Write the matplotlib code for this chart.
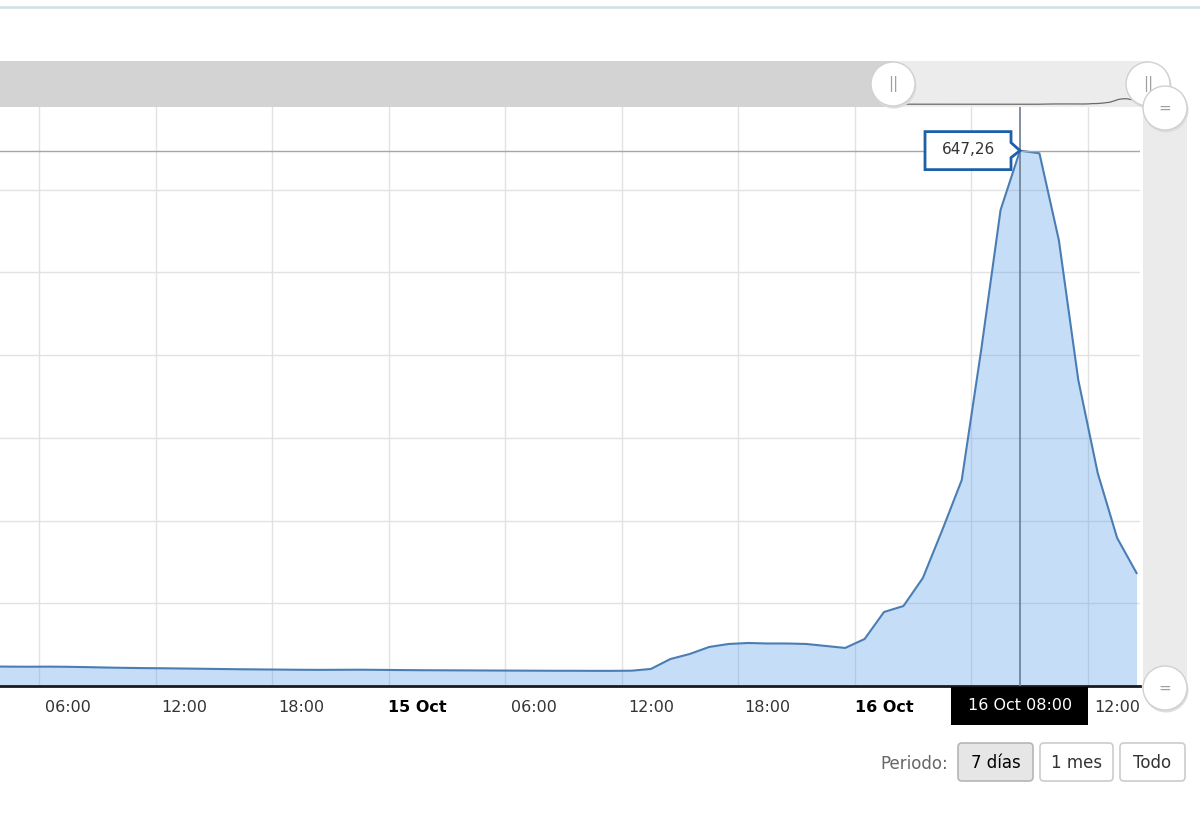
import numpy as np
import matplotlib
matplotlib.use("Agg")
import matplotlib.pyplot as plt
import matplotlib.transforms as mtransforms
from matplotlib.patches import Rectangle, Circle, Polygon, FancyBboxPatch
from matplotlib.lines import Line2D

# ---------------- data (hours since 14 Oct 00:00, hourly values) ----------------
times = np.arange(3.5, 63.0, 1.0)
values = [
    23.6, 23.4, 23.3, 23.4, 23.2, 22.8, 22.3, 21.9, 21.6, 21.4,
    21.1, 20.8, 20.5, 20.2, 20.0, 19.8, 19.6, 19.5, 19.6, 19.7,
    19.5, 19.3, 19.1, 19.0, 18.9, 18.8, 18.7, 18.6, 18.5, 18.4,
    18.4, 18.3, 18.3, 18.5, 20.6, 32.6, 38.7, 47.2, 50.8, 52.0,
    51.4, 51.4, 50.8, 48.4, 46.0, 56.8, 89.5, 96.7, 130.6, 188.6,
    249.0, 406.0, 575.6, 647.26, 644.0, 539.0, 370.0, 257.5, 179.0, 136.6,
]
peak_label = "647,26"
peak_time_label = "16 Oct 08:00"
grid_hours = [6, 12, 18, 24, 30, 36, 42, 48, 54, 60]
tick_labels = ["06:00", "12:00", "18:00", "15 Oct", "06:00", "12:00",
               "18:00", "16 Oct", "06:00", "12:00"]
bold_labels = {"15 Oct", "16 Oct"}
y_grid = [100, 200, 300, 400, 500, 600]
buttons = ["7 días", "1 mes", "Todo"]
period_label = "Periodo:"

W, H = 1200, 840
fig = plt.figure(figsize=(W / 100, H / 100), dpi=100)
fig.patch.set_facecolor("white")
plt.rcParams['font.family'] = ['DejaVu Sans']

PXH = 1049 / 54.0
xlo = 6 - 39 / PXH
xhi = 6 + 1101 / PXH

# ---------------- main axes ----------------
ax = fig.add_axes([0, 1 - 686 / H, 1140 / W, (686 - 107) / H])
ax.set_xlim(xlo, xhi)
ax.set_ylim(0, 700)
ax.set_axisbelow(True)
ax.fill_between(times, values, 0, color="#5aa0e6", alpha=0.35, lw=0, zorder=2)
ax.plot(times, values, color="#4a7db3", lw=1.5, zorder=3)

ipk = int(np.argmax(values))
tp, vp = times[ipk], values[ipk]

label_pos = [g + 1.5 for g in grid_hours]
ax.set_xticks(grid_hours)
ax.set_xticks(label_pos, minor=True)
ax.set_xticklabels(tick_labels, minor=True)
ax.set_yticks(y_grid)
ax.tick_params(which="major", length=0, labelbottom=False, labelleft=False)
ax.tick_params(which="minor", length=0, pad=10, labelsize=11.5, labelcolor="#333333")
box_half_hours = 69 / PXH
for pos, lab in zip(label_pos, ax.get_xticklabels(minor=True)):
    if lab.get_text() in bold_labels:
        lab.set_fontweight("bold")
        lab.set_color("black")
    # the label hidden under the crosshair's date box in the reference
    if abs(pos - tp) < box_half_hours:
        lab.set_visible(False)
ax.grid(True, which="major", color="#e2e2e2", lw=1)
for s in ["top", "left", "right"]:
    ax.spines[s].set_visible(False)
ax.spines["bottom"].set_color("#1a1a1a")
ax.spines["bottom"].set_linewidth(2)

ax.axhline(vp, color="#a6a6a6", lw=1, zorder=4)
ax.axvline(tp, color="#6b7d93", lw=1.2, zorder=4)

# tooltip callout
tr = mtransforms.Affine2D() + mtransforms.ScaledTranslation(tp, vp, ax.transData)
verts = [(-95, 19), (-9, 19), (-9, 8), (0, 0), (-9, -7), (-9, -19), (-95, -19)]
ax.add_patch(Polygon(verts, closed=True, facecolor="white", edgecolor="#1f5ea8",
                     lw=2, transform=tr, clip_on=False, zorder=6))
ax.text(-52, 1, peak_label, transform=tr, ha="center", va="center",
        fontsize=11, color="#333333", zorder=7, clip_on=False)

# x crosshair label
tr2 = mtransforms.Affine2D() + mtransforms.ScaledTranslation(tp, 0, ax.transData)
ax.add_patch(Rectangle((-69, -39), 137, 38, facecolor="black", edgecolor="none",
                       transform=tr2, clip_on=False, zorder=7))
ax.text(0, -19, peak_time_label, transform=tr2, ha="center", va="center",
        fontsize=11.5, color="white", zorder=8, clip_on=False)

# ---------------- navigator ----------------
span = xhi - xlo
nav_left = xhi - (1150 / 257) * span
nav = fig.add_axes([0, 1 - 107 / H, 1150 / W, 46 / H])
nav.set_xlim(nav_left, xhi)
nav.set_ylim(-300, 5000)
nav.set_axis_off()
nav.add_patch(Rectangle((0, 0), 1, 1, transform=nav.transAxes, facecolor="#ececec",
                        edgecolor="none", zorder=-1))
nav.axvspan(nav_left, xlo, color="#d3d3d3", lw=0)
nav.plot(times, values, color="#6a6a6a", lw=0.9)

ID = mtransforms.IdentityTransform()


def disp(x, y):
    return (x, H - y)


# top border line
fig.add_artist(Line2D([0, W], [H - 7, H - 7], color="#d6e2e2", lw=2, transform=ID))

# right vertical bar
fig.add_artist(Rectangle(disp(1143, 688), 44, 688 - 107, facecolor="#ebebeb",
                         edgecolor="none", transform=ID, zorder=1))


def handle(cx, cy, mark, z):
    fig.add_artist(Circle(disp(cx + 1, cy + 2), 22.5, facecolor="#dddddd",
                          edgecolor="none", transform=ID, zorder=z))
    fig.add_artist(Circle(disp(cx, cy), 22, facecolor="white", edgecolor="#d0d0d0",
                          lw=1, transform=ID, zorder=z + 0.1))
    fig.text(cx / W, 1 - cy / H, mark, ha="center", va="center", fontsize=11,
             color="#a0a0a0", zorder=z + 0.2)


handle(893, 84, "||", 2)
handle(1148, 84, "||", 2)
handle(1165, 108, "=", 3)
handle(1165, 688, "=", 3)

# ---------------- range selector ----------------
fig.text(948 / W, 1 - 764 / H, period_label, ha="right", va="center",
         fontsize=12, color="#666666")
btn_boxes = [(958, 1033), (1040, 1113), (1120, 1185)]
for i, (lab, (x0, x1)) in enumerate(zip(buttons, btn_boxes)):
    sel = i == 0
    fig.add_artist(FancyBboxPatch(disp(x0, 781), x1 - x0, 38,
                                  boxstyle="round,pad=0,rounding_size=4",
                                  facecolor="#e6e6e6" if sel else "white",
                                  edgecolor="#b5b5b5" if sel else "#cccccc",
                                  lw=1.2, transform=ID, zorder=2))
    fig.text((x0 + x1) / 2 / W, 1 - 763 / H, lab, ha="center", va="center",
             fontsize=12, color="black" if sel else "#333333", zorder=3)

fig.savefig("out.png", dpi=100)
